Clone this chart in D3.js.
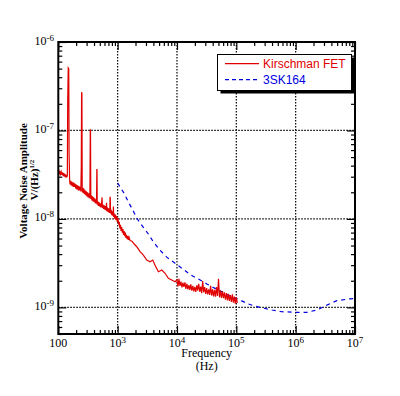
<!DOCTYPE html>
<html>
<head>
<meta charset="utf-8">
<script src="https://cdn.jsdelivr.net/npm/d3@7"></script>
<style>
  body { margin: 0; background: #fff; }
  svg { display: block; }
</style>
</head>
<body>
<svg id="chart" width="400" height="396"></svg>
<script>
// NOTE: tick labels
const xTicks = [100, 1e3, 1e4, 1e5, 1e6, 1e7]
const xTickBase = ['100', '10', '10', '10', '10', '10']
const xTickExp = ['', '3', '4', '5', '6', '7']
const yTicks = [1e-6, 1e-7, 1e-8, 1e-9]
const yTickExp = ['-6', '-7', '-8', '-9']
const xGrid = [1e3, 1e4, 1e5, 1e6]
const yGrid = [1e-7, 1e-8, 1e-9]

// NOTE: series names
const seriesNames = ['Kirschman FET', '3SK164']

// NOTE: Kirschman FET (Hz, V/Hz^1/2), one line of freq matches one line of amp
const fetFreq = [
  100, 103, 106, 109, 112, 115, 118, 121, 124, 127, 130, 133, 136, 139, 142, 144, 147, 150, 152,
  155, 158, 161, 164, 168, 172, 176, 180, 184, 188, 192, 197, 202, 207, 212, 217, 222, 228, 234, 240, 244, 247, 250, 253,
  258, 264, 270, 276, 283, 290, 297, 304, 311, 318, 326, 334, 341, 346, 349, 353,
  360, 368, 377, 386, 395, 404, 414, 424, 434, 441, 446, 449, 453,
  463, 474, 485, 497, 509, 521, 534, 547, 552, 566, 580, 594, 608, 623, 638, 650, 656,
  672, 688, 705, 722, 740, 745, 752, 760, 778, 797, 816, 836, 850, 856, 877, 898, 920, 942, 965, 988, 1012,
  1040, 1065, 1090, 1116, 1143, 1170, 1198, 1227, 1256, 1286, 1317, 1349, 1381, 1414, 1448, 1483, 1518, 1555, 1620, 1750,
  1900, 2100, 2386, 2713, 3095, 3519, 3907, 4273, 4858, 5541, 6300, 7161, 8172, 9290,
  10000, 10390, 10800, 11220, 11660, 12120, 12590, 13080, 13600, 14130,
  14680, 15260, 15850, 16470, 17110, 17780, 18480, 19200, 19950, 20730,
  21540, 22390, 23260, 24170, 25120, 26100, 27120, 28180, 29290, 30430,
  31620, 32860, 34150, 35480, 36870, 38310, 39810, 41370, 42990, 44670,
  46420, 48240, 50120, 52080, 54120, 56230, 58430, 60720, 63100, 65560,
  68130, 70790, 73560, 76440, 79430, 82540, 85770, 89130, 92610, 96240,
  100000, 103900
]
const fetAmp = [
  3.55e-8, 3.25e-8, 3.45e-8, 3.2e-8, 3.4e-8, 3.15e-8, 3.35e-8, 3.05e-8, 3.3e-8, 3.0e-8, 3.2e-8, 2.95e-8, 3.15e-8, 2.95e-8, 3.1e-8, 2.1e-7, 5.1e-7, 5.0e-7, 5.5e-8,
  2.8e-8, 2.45e-8, 2.7e-8, 2.4e-8, 2.65e-8, 2.35e-8, 2.6e-8, 2.3e-8, 2.55e-8, 2.3e-8, 2.5e-8, 2.2e-8, 2.45e-8, 2.15e-8, 2.4e-8, 2.1e-8, 2.35e-8, 2.1e-8, 2.3e-8, 2.05e-8, 3.9e-8, 2.7e-7, 2.65e-7, 2.0e-8,
  2.25e-8, 1.95e-8, 2.2e-8, 1.9e-8, 2.1e-8, 1.85e-8, 2.05e-8, 1.8e-8, 2.0e-8, 1.75e-8, 1.95e-8, 1.72e-8, 1.9e-8, 1.03e-7, 1.0e-7, 1.68e-8,
  1.85e-8, 1.62e-8, 1.8e-8, 1.58e-8, 1.75e-8, 1.55e-8, 1.7e-8, 1.5e-8, 1.65e-8, 1.5e-8, 3.66e-8, 3.6e-8, 1.45e-8,
  1.58e-8, 1.4e-8, 1.55e-8, 1.38e-8, 1.5e-8, 1.35e-8, 1.48e-8, 1.75e-8, 1.33e-8, 1.45e-8, 1.3e-8, 1.42e-8, 1.27e-8, 1.4e-8, 1.25e-8, 1.52e-8, 1.22e-8,
  1.35e-8, 1.2e-8, 1.32e-8, 1.17e-8, 1.3e-8, 1.78e-8, 1.72e-8, 1.15e-8, 1.27e-8, 1.1e-8, 1.22e-8, 1.08e-8, 1.38e-8, 1.05e-8, 1.15e-8, 1.0e-8, 1.12e-8, 9.7e-9, 1.08e-8, 9.2e-9, 1.02e-8,
  8.6e-9, 9.3e-9, 7.8e-9, 8.6e-9, 7.3e-9, 8.1e-9, 7.0e-9, 7.7e-9, 6.6e-9, 7.3e-9, 6.4e-9, 7.0e-9, 6.1e-9, 6.6e-9, 5.9e-9, 6.4e-9, 5.8e-9, 6.2e-9, 5.7e-9, 5.6e-9,
  5.2e-9, 4.85e-9, 4.26e-9, 3.9e-9, 3.43e-9, 3.28e-9, 3.43e-9, 3.0e-9, 2.53e-9, 2.64e-9, 2.43e-9, 2.13e-9, 2.04e-9, 1.95e-9,
  2.05e-9, 1.72e-9, 2.1e-9, 1.75e-9, 1.95e-9, 1.68e-9, 1.9e-9, 1.7e-9, 1.92e-9, 1.62e-9,
  1.85e-9, 1.6e-9, 1.78e-9, 1.58e-9, 1.82e-9, 1.55e-9, 1.75e-9, 1.52e-9, 1.7e-9, 1.5e-9,
  1.78e-9, 1.55e-9, 1.85e-9, 1.5e-9, 1.72e-9, 1.45e-9, 1.98e-9, 1.48e-9, 1.7e-9, 1.42e-9,
  1.65e-9, 1.4e-9, 1.6e-9, 1.38e-9, 1.75e-9, 1.36e-9, 1.6e-9, 1.33e-9, 1.58e-9, 1.32e-9,
  1.7e-9, 1.35e-9, 2.1e-9, 1.3e-9, 1.55e-9, 1.28e-9, 1.52e-9, 1.27e-9, 1.48e-9, 1.22e-9,
  1.45e-9, 1.2e-9, 1.42e-9, 1.18e-9, 1.38e-9, 1.15e-9, 1.4e-9, 1.13e-9, 1.32e-9, 1.1e-9,
  1.3e-9, 1.12e-9
]

// NOTE: 3SK164 (Hz, V/Hz^1/2)
const skFreq = [
  1000, 1282, 1514, 1798, 2150, 2650, 3294, 4000, 5050, 6730, 9290, 12820, 17100, 24550, 31840, 43900,
  60600, 83900, 115900, 150300, 194200, 269000, 397000, 585000, 981000, 1550000, 2280000, 3360000, 4950000, 8300000, 10000000
]
const skAmp = [
  2.55e-8, 1.95e-8, 1.56e-8, 1.26e-8, 9.97e-9, 8.2e-9, 6.75e-9, 5.5e-9, 4.5e-9, 3.7e-9, 3.15e-9, 2.69e-9, 2.32e-9, 2.04e-9, 1.84e-9, 1.64e-9,
  1.47e-9, 1.32e-9, 1.21e-9, 1.11e-9, 1.045e-9, 9.9e-10, 9.33e-10, 8.93e-10, 8.8e-10, 8.8e-10, 9.33e-10, 1.06e-9, 1.19e-9, 1.25e-9, 1.26e-9
]

if (fetFreq.length !== fetAmp.length) console.error('fet length mismatch', fetFreq.length, fetAmp.length)

const RED = '#e00000'
const BLUE = '#0000e0'
const plotLeft = 58.3
const plotRight = 355
const plotTop = 42
const plotBottom = 334

const svg = d3.select('#chart')

const x = d3.scaleLog().domain([100, 1e7]).range([plotLeft, plotRight])
const y = d3.scaleLog().domain([5e-10, 1e-6]).range([plotBottom, plotTop])

// NOTE: grid (dotted)
const grid = svg.append('g').attr('class', 'grid')
grid.selectAll('line.gx')
  .data(xGrid)
  .join('line')
  .attr('class', 'gx')
  .attr('x1', d => x(d)).attr('x2', d => x(d))
  .attr('y1', plotTop).attr('y2', plotBottom)
grid.selectAll('line.gy')
  .data(yGrid)
  .join('line')
  .attr('class', 'gy')
  .attr('x1', plotLeft).attr('x2', plotRight)
  .attr('y1', d => y(d)).attr('y2', d => y(d))
grid.selectAll('line')
  .attr('stroke', '#000')
  .attr('stroke-width', 1.2)
  .attr('stroke-dasharray', '1.5,1.5')

// NOTE: data lines
const line = d3.line().x(d => x(d[0])).y(d => y(d[1]))
const fetData = fetFreq.map((f, i) => [f, fetAmp[i]])
const skData = skFreq.map((f, i) => [f, skAmp[i]])

svg.append('path')
  .datum(skData)
  .attr('fill', 'none')
  .attr('stroke', BLUE)
  .attr('stroke-width', 1.2)
  .attr('stroke-dasharray', '4,4')
  .attr('d', line)

svg.append('path')
  .datum(fetData)
  .attr('fill', 'none')
  .attr('stroke', RED)
  .attr('stroke-width', 1.2)
  .attr('d', line)

// NOTE: ticks on all four sides, pointing inward
const isDecade = v => Math.abs(Math.log10(v) - Math.round(Math.log10(v))) < 1e-9
const xMinor = x.ticks().filter(v => !isDecade(v))
const yMinor = y.ticks().filter(v => !isDecade(v))

const axes = [
  [d3.axisBottom(x), `translate(0,${plotBottom})`, xMinor, xTicks],
  [d3.axisTop(x), `translate(0,${plotTop})`, xMinor, xTicks],
  [d3.axisLeft(y), `translate(${plotLeft},0)`, yMinor, yTicks],
  [d3.axisRight(y), `translate(${plotRight},0)`, yMinor, yTicks],
]
axes.forEach(([ax, tr, minor, major]) => {
  svg.append('g')
    .attr('transform', tr)
    .call(ax.tickValues(minor).tickSize(-4).tickFormat(''))
    .call(g => g.select('.domain').remove())
  svg.append('g')
    .attr('transform', tr)
    .call(ax.tickValues(major).tickSize(-8).tickFormat(''))
    .call(g => g.select('.domain').remove())
})
svg.selectAll('.tick line').attr('stroke', '#000').attr('stroke-width', 1.2)

// NOTE: frame
svg.append('rect')
  .attr('x', plotLeft).attr('y', plotTop)
  .attr('width', plotRight - plotLeft).attr('height', plotBottom - plotTop)
  .attr('fill', 'none')
  .attr('stroke', '#000')
  .attr('stroke-width', 2)

// NOTE: tick labels
const serif = '"Liberation Serif", "Times New Roman", serif'
const xLab = svg.append('g')
  .attr('font-family', serif)
  .attr('font-size', 12)
  .attr('text-anchor', 'middle')
xTicks.forEach((t, i) => {
  const txt = xLab.append('text').attr('x', x(t)).attr('y', 347)
  txt.append('tspan').text(xTickBase[i])
  if (xTickExp[i]) {
    txt.append('tspan').attr('font-size', 9).attr('dy', -4).text(xTickExp[i])
  }
})

const yLab = svg.append('g')
  .attr('font-family', serif)
  .attr('font-size', 12)
  .attr('text-anchor', 'end')
yTicks.forEach((t, i) => {
  const txt = yLab.append('text').attr('x', 54).attr('y', y(t) + 2.5)
  txt.append('tspan').text('10')
  txt.append('tspan').attr('font-size', 9).attr('dy', -4).text(yTickExp[i])
})

// NOTE: axis titles
const midX = (plotLeft + plotRight) / 2
svg.append('text')
  .attr('x', midX).attr('y', 357)
  .attr('text-anchor', 'middle')
  .attr('font-family', serif).attr('font-size', 12)
  .text('Frequency')
svg.append('text')
  .attr('x', midX).attr('y', 370)
  .attr('text-anchor', 'middle')
  .attr('font-family', serif).attr('font-size', 12)
  .text('(Hz)')

svg.append('text')
  .attr('transform', 'translate(27,181) rotate(-90)')
  .attr('text-anchor', 'middle')
  .attr('font-family', serif).attr('font-size', 11).attr('font-weight', 'bold')
  .text('Voltage Noise Amplitude')
const unit = svg.append('text')
  .attr('transform', 'translate(38,180) rotate(-90)')
  .attr('text-anchor', 'middle')
  .attr('font-family', serif).attr('font-size', 11).attr('font-weight', 'bold')
unit.append('tspan').text('V/(Hz)')
unit.append('tspan').attr('font-size', 7).attr('dy', -4).text('1/2')

// NOTE: legend with drop shadow
const lg = svg.append('g').attr('class', 'legend')
lg.append('rect')
  .attr('x', 220.5).attr('y', 57.5)
  .attr('width', 134).attr('height', 36)
  .attr('fill', '#000')
lg.append('rect')
  .attr('x', 217.5).attr('y', 54.5)
  .attr('width', 134).attr('height', 36)
  .attr('fill', '#fff')
  .attr('stroke', '#000')
  .attr('stroke-width', 1)

const legendColors = [RED, BLUE]
const legendDash = [null, '4,3']
seriesNames.forEach((name, i) => {
  const ly = 63.7 + i * 16
  lg.append('line')
    .attr('x1', 225).attr('x2', 259)
    .attr('y1', ly).attr('y2', ly)
    .attr('stroke', legendColors[i])
    .attr('stroke-width', 1.2)
    .attr('stroke-dasharray', legendDash[i])
  lg.append('text')
    .attr('x', 263).attr('y', ly + 4.2)
    .attr('font-family', '"Liberation Sans", Arial, sans-serif')
    .attr('font-size', 12)
    .attr('fill', legendColors[i])
    .text(name)
})
</script>
</body>
</html>
